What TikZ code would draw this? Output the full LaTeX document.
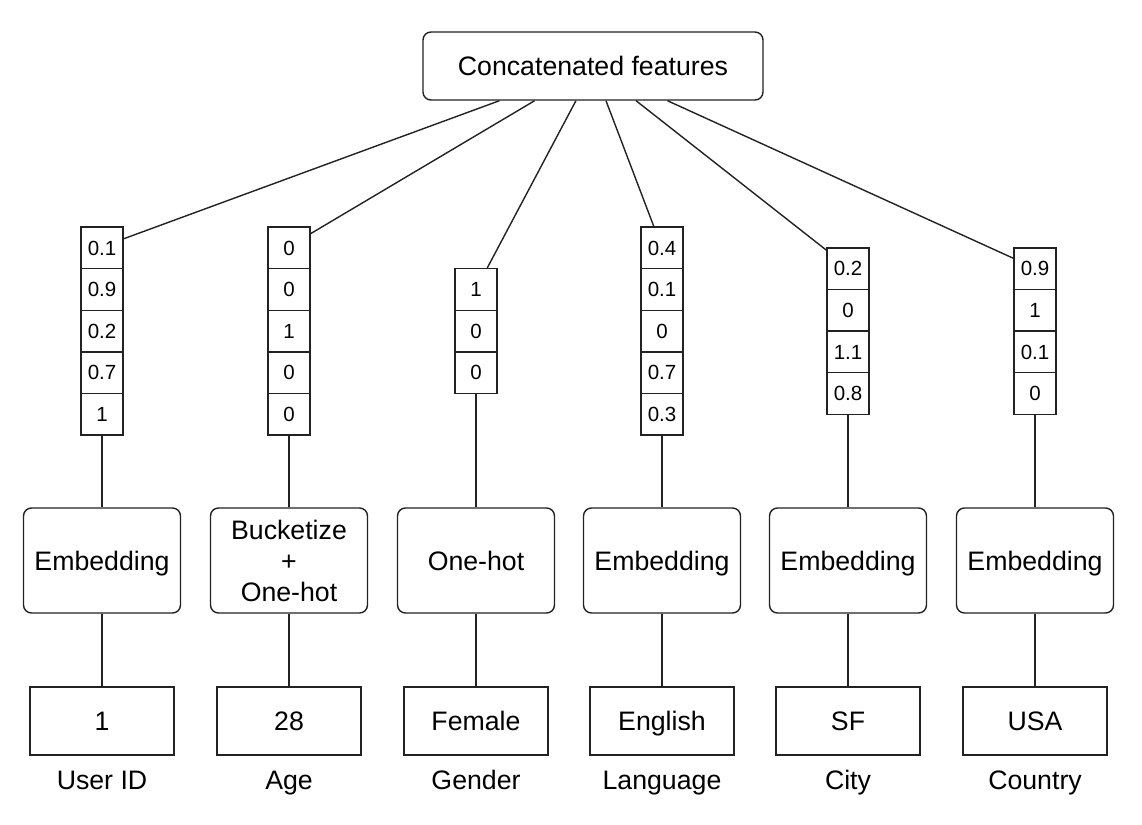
\documentclass[tikz,border=0pt]{standalone}
\usepackage{fontspec}
\setmainfont{Liberation Sans}
\usetikzlibrary{calc}
\definecolor{ink}{HTML}{222222}
\begin{document}
\begin{tikzpicture}[x=1pt,y=-1pt,
  line width=1.4pt,
  bigfont/.style={font=\fontsize{26.7}{31}\selectfont},
  topbox/.style={draw=ink, bigfont, rounded corners=8pt, minimum width=340pt, minimum height=68pt, inner sep=0pt},
  opbox/.style={draw=ink, bigfont, rounded corners=8pt, minimum width=157pt, minimum height=105pt, inner sep=0pt, text height=19pt, text depth=0pt},
  opboxml/.style={draw=ink, bigfont, rounded corners=8pt, minimum width=157pt, minimum height=105pt, inner sep=0pt, align=center},
  valbox/.style={draw=ink, bigfont, minimum width=144pt, minimum height=68pt, inner sep=0pt, text height=19pt, text depth=0pt},
  cell/.style={draw=ink, font=\fontsize{20.5}{23}\selectfont, minimum width=42pt, minimum height=41.6pt, inner sep=0pt, text height=14.5pt, text depth=0pt},
  lab/.style={bigfont, inner sep=0pt, anchor=base},
  conn/.style={draw=ink, line width=1.4pt}]
\useasboundingbox (0,0) rectangle (1142,824);

\node[topbox] (top) at (593,66) {Concatenated features};

% vectors
\foreach \v/\x/\n/\vals in {1/102/5/{0.1,0.9,0.2,0.7,1},2/289/5/{0,0,1,0,0},3/476/3/{1,0,0},4/662/5/{0.4,0.1,0,0.7,0.3},5/848/4/{0.2,0,1.1,0.8},6/1035/4/{0.9,1,0.1,0}}{
  \foreach \c [count=\k] in \vals {
    \node[cell] (v\v-\k) at (\x,{331-\n*20.8+(\k-0.5)*41.6}) {\c};
  }
}

% operation boxes
\node[opbox] (op1) at (102,560.5) {Embedding};
\node[opboxml] (op2) at (289,560.5) {Bucketize\\+\\One-hot};
\node[opbox] (op3) at (476,560.5) {One-hot};
\node[opbox] (op4) at (662,560.5) {Embedding};
\node[opbox] (op5) at (848,560.5) {Embedding};
\node[opbox] (op6) at (1035,560.5) {Embedding};

% value boxes
\node[valbox] (val1) at (102,721) {1};
\node[valbox] (val2) at (289,721) {28};
\node[valbox] (val3) at (476,721) {Female};
\node[valbox] (val4) at (662,721) {English};
\node[valbox] (val5) at (848,721) {SF};
\node[valbox] (val6) at (1035,721) {USA};

% labels
\node[lab] (lab1) at (102,789) {User ID};
\node[lab] (lab2) at (289,789) {Age};
\node[lab] (lab3) at (476,789) {Gender};
\node[lab] (lab4) at (662,789) {Language};
\node[lab] (lab5) at (848,789) {City};
\node[lab] (lab6) at (1035,789) {Country};

% connectors top -> vectors
\draw[conn] ($(top.south west)!0.226!(top.south east)$) -- ($(v1-1.north east)!0.29!(v1-1.south east)$);
\draw[conn] ($(top.south west)!0.329!(top.south east)$) -- ($(v2-1.north east)!0.17!(v2-1.south east)$);
\draw[conn] ($(top.south west)!0.45!(top.south east)$) -- ($(v3-1.north west)!0.76!(v3-1.north east)$);
\draw[conn] ($(top.south west)!0.538!(top.south east)$) -- ($(v4-1.north west)!0.31!(v4-1.north east)$);
\draw[conn] ($(top.south west)!0.626!(top.south east)$) -- ($(v5-1.north west)!0.07!(v5-1.south west)$);
\draw[conn] ($(top.south west)!0.718!(top.south east)$) -- ($(v6-1.north west)!0.26!(v6-1.south west)$);

% vectors -> ops
\draw[conn] (v1-5.south) -- (op1.north);
\draw[conn] (v2-5.south) -- (op2.north);
\draw[conn] (v3-3.south) -- (op3.north);
\draw[conn] (v4-5.south) -- (op4.north);
\draw[conn] (v5-4.south) -- (op5.north);
\draw[conn] (v6-4.south) -- (op6.north);

% ops -> values
\foreach \i in {1,...,6}{
  \draw[conn] (op\i.south) -- (val\i.north);
}
\end{tikzpicture}
\end{document}
